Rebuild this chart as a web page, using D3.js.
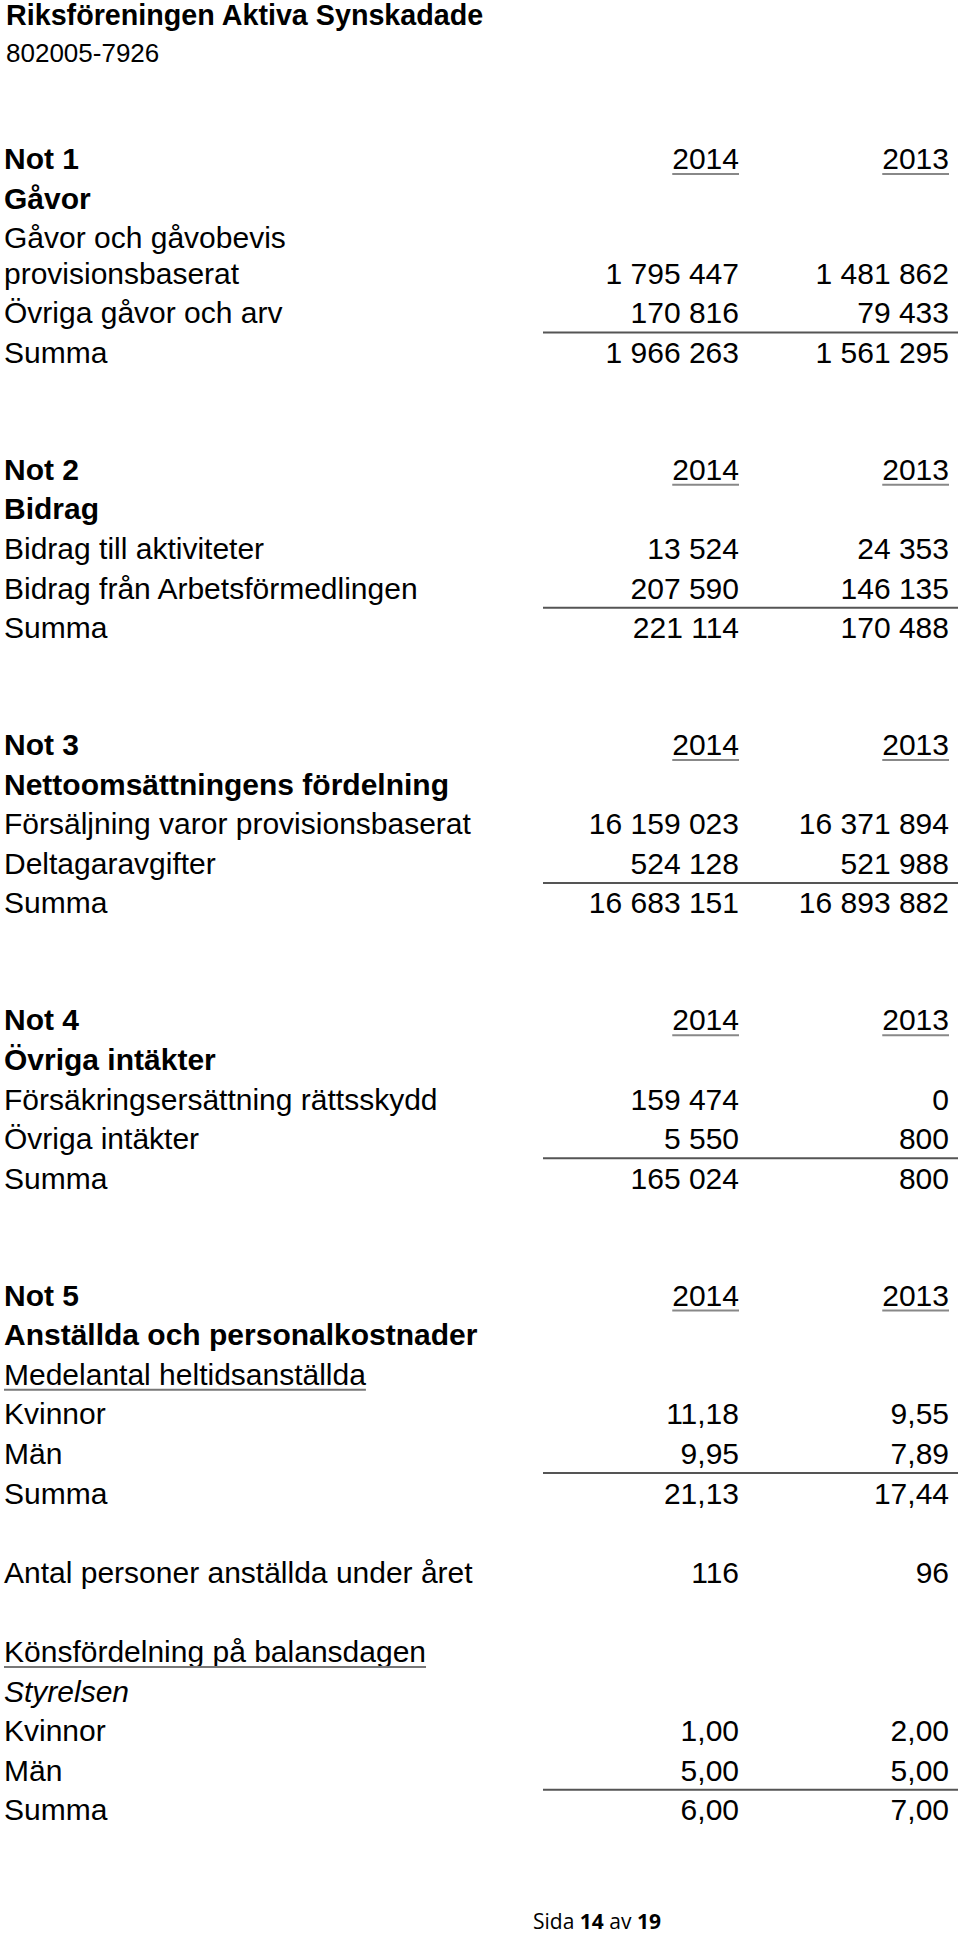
<!DOCTYPE html>
<html><head><meta charset="utf-8">
<script src="https://cdn.jsdelivr.net/npm/d3@7"></script>
<style>html,body{margin:0;padding:0;background:#fff;} svg{display:block;}</style>
</head><body><div id="chart"></div>
<script>
// ---------- data ----------
const orgName = "Riksföreningen Aktiva Synskadade";
const orgNumber = "802005-7926";
const years = ["2014", "2013"];

const not1Title = "Gåvor";
const not1Labels = [["Gåvor och gåvobevis", "provisionsbaserat"], ["Övriga gåvor och arv"], ["Summa"]];
const not1Y2014 = [1795447, 170816, 1966263];
const not1Y2013 = [1481862, 79433, 1561295];

const not2Title = "Bidrag";
const not2Labels = [["Bidrag till aktiviteter"], ["Bidrag från Arbetsförmedlingen"], ["Summa"]];
const not2Y2014 = [13524, 207590, 221114];
const not2Y2013 = [24353, 146135, 170488];

const not3Title = "Nettoomsättningens fördelning";
const not3Labels = [["Försäljning varor provisionsbaserat"], ["Deltagaravgifter"], ["Summa"]];
const not3Y2014 = [16159023, 524128, 16683151];
const not3Y2013 = [16371894, 521988, 16893882];

const not4Title = "Övriga intäkter";
const not4Labels = [["Försäkringsersättning rättsskydd"], ["Övriga intäkter"], ["Summa"]];
const not4Y2014 = [159474, 5550, 165024];
const not4Y2013 = [0, 800, 800];

const not5Title = "Anställda och personalkostnader";
const not5aHeading = "Medelantal heltidsanställda";
const not5aLabels = [["Kvinnor"], ["Män"], ["Summa"]];
const not5aY2014 = [11.18, 9.95, 21.13];
const not5aY2013 = [9.55, 7.89, 17.44];
const not5bLabels = [["Antal personer anställda under året"]];
const not5bY2014 = [116];
const not5bY2013 = [96];
const not5cHeading = "Könsfördelning på balansdagen";
const not5cSubheading = "Styrelsen";
const not5cLabels = [["Kvinnor"], ["Män"], ["Summa"]];
const not5cY2014 = [1, 5, 6];
const not5cY2013 = [2, 5, 7];

const footerParts = [["Sida ", false], ["14", true], [" av ", false], ["19", true]];

// ---------- layout ----------
const W = 960, H = 1939;
const FONT = "'Liberation Sans', Arial, Helvetica, sans-serif";
const FS = 30;
const locale = d3.formatLocale({decimal: ",", thousands: " ", grouping: [3], currency: ["", " kr"]});
const fmtInt = locale.format(",d");
const fmtDec = locale.format(",.2f");

const y = d3.scaleLinear().domain([0, 1]).range([169, 169 + 39.6]);
const x = d3.scalePoint().domain(years).range([739, 949]);
const leftX = 4;
const sumLineX = [543, 958];

const svg = d3.select("#chart").append("svg")
  .attr("width", W).attr("height", H)
  .attr("viewBox", `0 0 ${W} ${H}`);
svg.append("rect").attr("width", W).attr("height", H).attr("fill", "#fff");

const g = svg.append("g").attr("font-family", FONT).attr("fill", "#000");

// header
g.append("text").attr("x", 6).attr("y", 25).attr("font-size", 28.7).attr("font-weight", "bold").text(orgName);
g.append("text").attr("x", 6).attr("y", 62).attr("font-size", 26).text(orgNumber);

function label(row, text, opts = {}) {
  const t = g.append("text").attr("x", leftX).attr("y", y(row)).attr("font-size", FS)
    .attr("font-weight", opts.bold ? "bold" : null)
    .attr("font-style", opts.italic ? "italic" : null)
    .text(text);
  if (opts.underline) {
    const w = t.node().getComputedTextLength();
    g.append("line").attr("x1", leftX).attr("x2", leftX + w)
      .attr("y1", y(row) + 5).attr("y2", y(row) + 5)
      .attr("stroke", "#777").attr("stroke-width", 2);
  }
  return t;
}

function yearHeader(row) {
  years.forEach(yr => {
    const t = g.append("text").attr("x", x(yr)).attr("y", y(row)).attr("font-size", FS)
      .attr("text-anchor", "end").text(yr);
    const w = t.node().getComputedTextLength();
    g.append("line").attr("x1", x(yr) - w).attr("x2", x(yr))
      .attr("y1", y(row) + 5).attr("y2", y(row) + 5)
      .attr("stroke", "#888").attr("stroke-width", 2);
  });
}

function block(startRow, labels, v14, v13, fmt, hasSum) {
  let r = startRow;
  labels.forEach((lines, i) => {
    if (i > 0) r += 1;
    if (hasSum && i === labels.length - 1) {
      const ly = y(r - 1 + 0.23);
      g.append("line").attr("x1", sumLineX[0]).attr("x2", sumLineX[1])
        .attr("y1", ly).attr("y2", ly).attr("stroke", "#555").attr("stroke-width", 2);
    }
    lines.forEach((ln, j) => {
      if (j > 0) r += 0.9;
      label(r, ln);
    });
    [[years[0], v14[i]], [years[1], v13[i]]].forEach(([yr, v]) => {
      g.append("text").attr("x", x(yr)).attr("y", y(r)).attr("font-size", FS)
        .attr("text-anchor", "end").text(fmt(v));
    });
  });
  return r;
}

function note(startRow, num, title, labels, v14, v13) {
  let r = startRow;
  label(r, "Not " + num, {bold: true});
  yearHeader(r);
  r += 1;
  label(r, title, {bold: true});
  r += 1;
  return block(r, labels, v14, v13, fmtInt, true);
}

let row = 0;
row = note(row, 1, not1Title, not1Labels, not1Y2014, not1Y2013) + 2.95;
row = note(row, 2, not2Title, not2Labels, not2Y2014, not2Y2013) + 2.95;
row = note(row, 3, not3Title, not3Labels, not3Y2014, not3Y2013) + 2.95;
row = note(row, 4, not4Title, not4Labels, not4Y2014, not4Y2013) + 2.95;

// Not 5
label(row, "Not 5", {bold: true});
yearHeader(row);
row += 1;
label(row, not5Title, {bold: true});
row += 1;
label(row, not5aHeading, {underline: true});
row += 1;
row = block(row, not5aLabels, not5aY2014, not5aY2013, fmtDec, true);
row += 2;
row = block(row, not5bLabels, not5bY2014, not5bY2013, fmtInt, false);
row += 2;
label(row, not5cHeading, {underline: true});
row += 1;
label(row, not5cSubheading, {italic: true});
row += 1;
row = block(row, not5cLabels, not5cY2014, not5cY2013, fmtDec, true);

// footer near the page edge
const ft = g.append("text").attr("x", 597).attr("y", 1929).attr("font-size", 21)
  .attr("text-anchor", "middle").attr("font-family", "'Open Sans', 'Liberation Sans', sans-serif");
footerParts.forEach(([s, b]) => ft.append("tspan").attr("font-weight", b ? "bold" : null).text(s));
</script>
</body></html>
